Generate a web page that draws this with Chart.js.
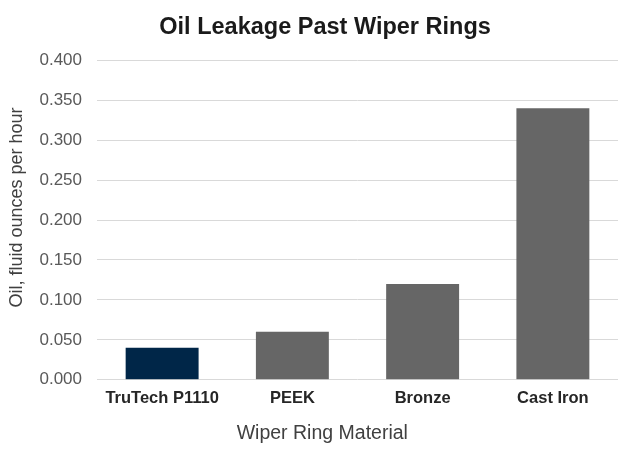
<!DOCTYPE html>
<html>
<head>
<meta charset="utf-8">
<script src="https://cdn.jsdelivr.net/npm/chart.js@4/dist/chart.umd.min.js"></script>
<style>
  html, body { margin: 0; padding: 0; background: #fff; }
  #wrap { width: 618px; height: 449px; }
</style>
</head>
<body>
<div id="wrap"><canvas id="chart" width="618" height="449"></canvas></div>
<script>
const categories = ["TruTech P1110", "PEEK", "Bronze", "Cast Iron"];
const leakage = [0.040, 0.060, 0.120, 0.340];
const barColors = ["#002648", "#666666", "#666666", "#666666"];
const yTicks = [0, 0.05, 0.1, 0.15, 0.2, 0.25, 0.3, 0.35, 0.4];

Chart.defaults.font.family = "'Liberation Sans', Arial, sans-serif";

// spaces nudge the titles off-centre, like in the original image
const pad = (n) => " ".repeat(n);

window.myChart = new Chart(document.getElementById("chart").getContext("2d"), {
    type: "bar",
    data: {
        labels: categories,
        datasets: [{
            label: "Oil leakage",
            data: leakage,
            backgroundColor: barColors,
            barPercentage: 0.56,
            categoryPercentage: 1.0
        }]
    },
    options: {
        responsive: false,
        animation: false,
        layout: { padding: { left: 6, right: 0, top: 13, bottom: 4 } },
        plugins: {
            legend: { display: false },
            tooltip: { enabled: false },
            title: {
                display: true,
                text: pad(4) + "Oil Leakage Past Wiper Rings",
                color: "#1a1a1a",
                font: { size: 23.5, weight: "bold" },
                padding: { top: 0, bottom: 19 }
            }
        },
        scales: {
            x: {
                grid: { display: false, drawTicks: false },
                border: { display: false },
                ticks: {
                    color: "#262626",
                    font: { size: 16.5, weight: "bold" },
                    padding: 9
                },
                title: {
                    display: true,
                    text: "Wiper Ring Material" + pad(13),
                    color: "#404040",
                    font: { size: 19.5 },
                    padding: { top: 4, bottom: 0 }
                }
            },
            y: {
                min: 0,
                max: 0.4,
                afterBuildTicks: (axis) => {
                    axis.ticks = yTicks.map(v => ({ value: v }));
                },
                afterFit: (axis) => {
                    axis.width = 91;
                },
                grid: { color: "#d9d9d9", drawTicks: false, lineWidth: 1 },
                border: { display: false },
                ticks: {
                    color: "#595959",
                    font: { size: 17 },
                    padding: 15,
                    callback: (v) => Number(v).toFixed(3)
                },
                title: {
                    display: true,
                    text: pad(5) + "Oil, fluid ounces per hour",
                    color: "#404040",
                    font: { size: 18 },
                    padding: { top: 0, bottom: 10 }
                }
            }
        }
    }
});
</script>
</body>
</html>
